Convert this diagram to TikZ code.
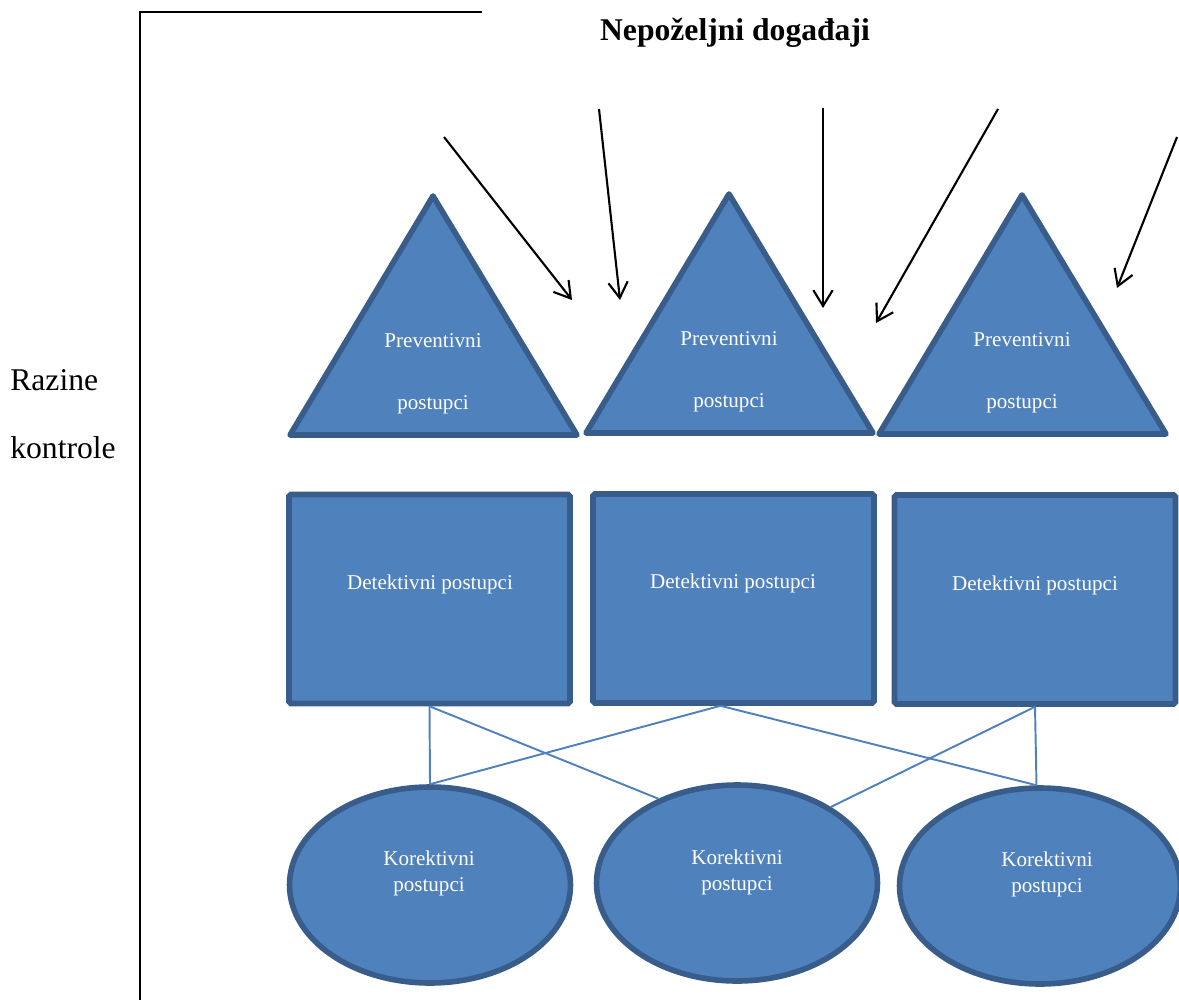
\documentclass[tikz,border=0pt]{standalone}
\usepackage{fontspec}
\setmainfont{Liberation Serif}
\usetikzlibrary{shapes.geometric,arrows.meta}

\definecolor{plava}{HTML}{4F81BD}
\definecolor{rub}{HTML}{385D8A}

\begin{document}
\begin{tikzpicture}[x=0.02cm, y=-0.02cm]
   \tikzset{
      tri/.style={fill=plava, draw=rub, line width=3.2pt, line join=round},
      detbox/.style={rectangle, fill=plava, draw=rub, line width=3.2pt, rounded corners=1pt,
         minimum width=5.62cm, minimum height=4.18cm, inner sep=0pt},
      korell/.style={ellipse, fill=plava, draw=rub, line width=3.2pt,
         minimum width=5.62cm, minimum height=3.92cm, inner sep=0pt},
      txt/.style={text=white, font=\fontsize{12}{14}\selectfont, inner sep=0pt},
      big/.style={font=\fontsize{18}{22}\selectfont, inner sep=0pt},
      veza/.style={draw=plava, line width=1.1pt},
      hit/.style={draw=black, line width=1.2pt, -{Straight Barb[length=9pt, width=11pt]}},
      os/.style={draw=black, line width=1.2pt}
   }
   \useasboundingbox (0,0) rectangle (1179,1007);
   \clip (0,0) rectangle (1179,1007);

   % naslov i os
   \node[big, font=\fontsize{18}{22}\selectfont\bfseries] (naslov) at (735,33) {Nepoželjni događaji};
   \node[big, anchor=west] (razine) at (10,380) {Razine};
   \node[big, anchor=west] (kontrole) at (10,448) {kontrole};
   \coordinate (osA) at (482,12);
   \coordinate (osB) at (140,12);
   \coordinate (osC) at (140,1000);
   \draw[os] (osA) -- (osB) -- (osC);

   % preventivni postupci
   \foreach \i/\cx/\cy in {1/433/435, 2/729/433, 3/1022/434} {
      \draw[tri] (\cx-143,\cy) -- (\cx,\cy-239) -- (\cx+144,\cy) -- cycle;
      \node[txt] (p\i a) at (\cx,\cy-94) {Preventivni};
      \node[txt] (p\i b) at (\cx,\cy-30) {postupci};
   }

   % detektivni postupci
   \node[detbox] (d1) at (429.5,599) {};
   \node[detbox] (d2) at (733.5,598.5) {};
   \node[detbox] (d3) at (1035,599.5) {};
   \foreach \i/\cx/\cy in {1/430/584, 2/733/583, 3/1035/585}
      \node[txt] (dt\i) at (\cx,\cy) {Detektivni postupci};

   % korektivni postupci
   \node[korell] (k1) at (430,885) {};
   \node[korell] (k2) at (737,883) {};
   \node[korell] (k3) at (1040,886) {};
   \foreach \i/\cx/\cy in {1/429/858, 2/737/857, 3/1047/859} {
      \node[txt] (kt\i a) at (\cx,\cy) {Korektivni};
      \node[txt] (kt\i b) at (\cx,\cy+29) {postupci};
   }

   % veze
   \coordinate (d2s) at ([xshift=-0.26cm]d2.south);
   \draw[veza] (d1.south) -- (k1.north);
   \draw[veza] (d1.south) -- (k2.133);
   \draw[veza] (d2s) -- (k1.north);
   \draw[veza] (d2s) -- (k3.92);
   \draw[veza] (d3.south) -- (k3.92);
   \draw[veza] (d3.south) -- (k2.39);

   % nepozeljni dogadaji
   \foreach \i/\sx/\sy/\ex/\ey in {1/444/137/572/300, 2/599/109/620/300, 3/823/108/823/308,
                                   4/998/109/876/323, 5/1177/137/1117/288} {
      \coordinate (s\i) at (\sx,\sy);
      \coordinate (e\i) at (\ex,\ey);
      \draw[hit] (s\i) -- (e\i);
   }
\end{tikzpicture}
\end{document}
